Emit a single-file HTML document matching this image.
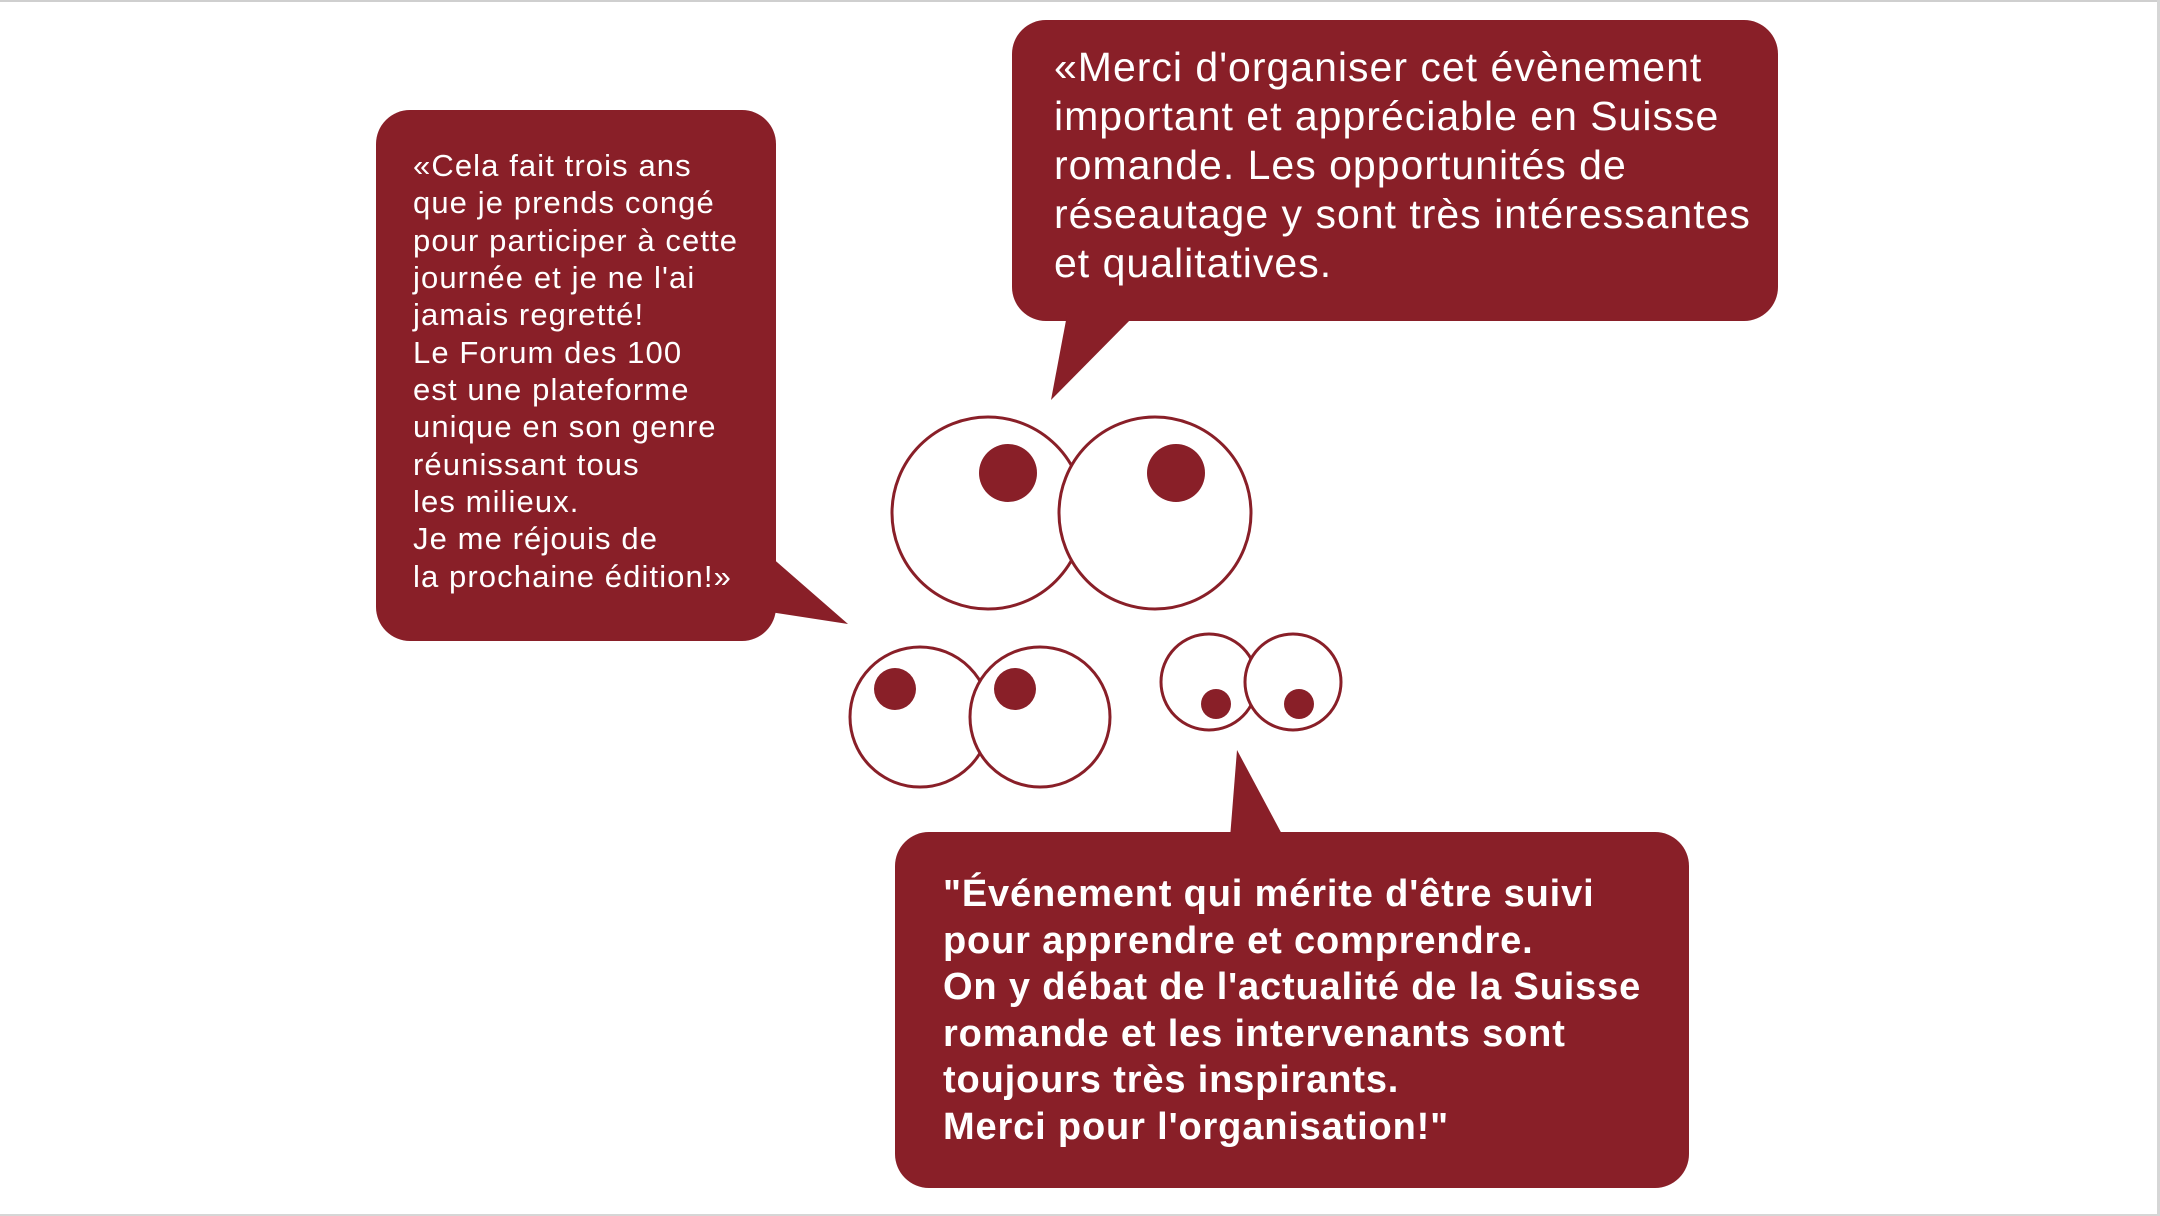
<!DOCTYPE html>
<html><head><meta charset="utf-8"><style>
html,body{margin:0;padding:0;background:#fff;}
svg{display:block;}
text{font-family:"Liberation Sans",Arial,sans-serif;fill:#fff;}
</style></head><body>
<svg width="2160" height="1216" viewBox="0 0 2160 1216" xmlns="http://www.w3.org/2000/svg">
<rect x="0" y="0" width="2160" height="1216" fill="#fff"/>
<rect x="0" y="0" width="2160" height="2" fill="#cfcfcf"/>
<rect x="2157" y="0" width="3" height="1216" fill="#d6d6d6"/>
<rect x="0" y="1214" width="2160" height="2" fill="#d6d6d6"/>
<g fill="#891f28">
<rect x="376" y="110" width="400" height="531" rx="34"/>
<polygon points="770,556 848,624 770,612"/>
<rect x="1012" y="20" width="766" height="301" rx="34"/>
<polygon points="1067,315 1051,400 1135,315"/>
<rect x="895" y="832" width="794" height="356" rx="34"/>
<polygon points="1230,838 1237,750 1284,838"/>
</g>
<g stroke="#891f28" stroke-width="3" fill="#fff">
<circle cx="988" cy="513" r="96"/>
<circle cx="1155" cy="513" r="96"/>
<circle cx="920" cy="717" r="70"/>
<circle cx="1040" cy="717" r="70"/>
<circle cx="1209" cy="682" r="48"/>
<circle cx="1293" cy="682" r="48"/>
</g>
<g fill="#891f28">
<circle cx="1008" cy="473" r="29"/>
<circle cx="1176" cy="473" r="29"/>
<circle cx="895" cy="689" r="21"/>
<circle cx="1015" cy="689" r="21"/>
<circle cx="1216" cy="704" r="15"/>
<circle cx="1299" cy="704" r="15"/>
</g>
<g font-size="31" letter-spacing="1.1">
<text x="413" y="176">«Cela fait trois ans</text>
<text x="413" y="213">que je prends congé</text>
<text x="413" y="251">pour participer à cette</text>
<text x="413" y="288">journée et je ne l'ai</text>
<text x="413" y="325">jamais regretté!</text>
<text x="413" y="363">Le Forum des 100</text>
<text x="413" y="400">est une plateforme</text>
<text x="413" y="437">unique en son genre</text>
<text x="413" y="475">réunissant tous</text>
<text x="413" y="512">les milieux.</text>
<text x="413" y="549">Je me réjouis de</text>
<text x="413" y="587">la prochaine édition!»</text>
</g>
<g font-size="41" letter-spacing="1">
<text x="1054" y="81">«Merci d'organiser cet évènement</text>
<text x="1054" y="130">important et appréciable en Suisse</text>
<text x="1054" y="179">romande. Les opportunités de</text>
<text x="1054" y="228">réseautage y sont très intéressantes</text>
<text x="1054" y="277">et qualitatives.</text>
</g>
<g font-size="38" font-weight="bold" letter-spacing="0.85">
<text x="943" y="906">"Événement qui mérite d'être suivi</text>
<text x="943" y="953">pour apprendre et comprendre.</text>
<text x="943" y="999">On y débat de l'actualité de la Suisse</text>
<text x="943" y="1046">romande et les intervenants sont</text>
<text x="943" y="1092">toujours très inspirants.</text>
<text x="943" y="1139">Merci pour l'organisation!"</text>
</g>
</svg>
</body></html>
